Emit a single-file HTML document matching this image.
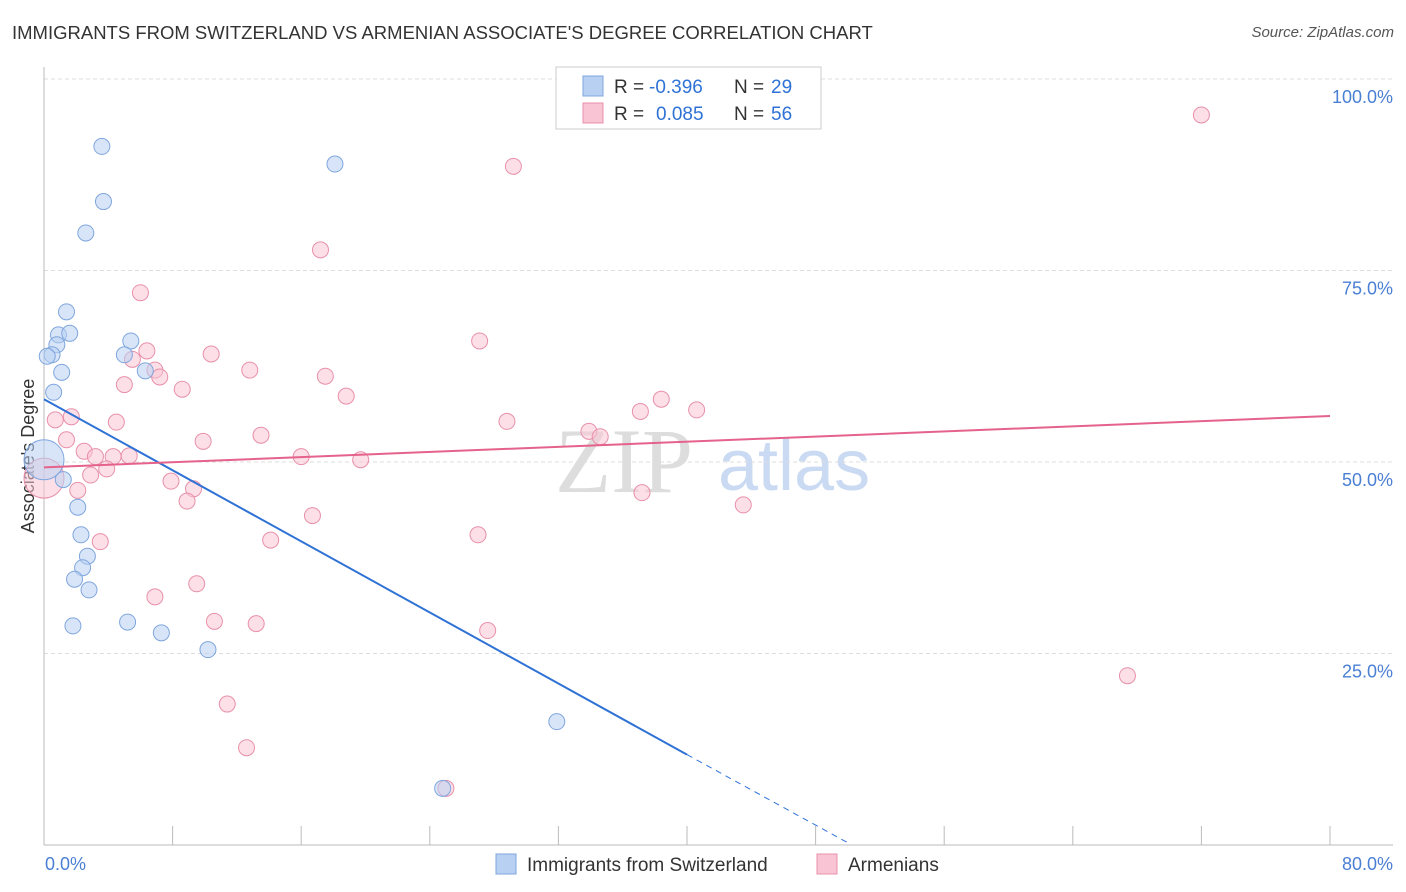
<!DOCTYPE html>
<html><head><meta charset="utf-8">
<style>
body{margin:0;background:#fff;font-family:"Liberation Sans",sans-serif;}
#wrap{position:relative;width:1406px;height:892px;overflow:hidden;}
.t{position:absolute;white-space:nowrap;}
</style></head>
<body><div id="wrap">
<div class="t" style="left:12px;top:22px;font-size:18.5px;color:#333;">IMMIGRANTS FROM SWITZERLAND VS ARMENIAN ASSOCIATE'S DEGREE CORRELATION CHART</div>
<div class="t" style="right:12px;top:24px;font-size:15px;color:#555;font-style:italic;">Source: ZipAtlas.com</div>
<svg id="svg" width="1406" height="892" style="position:absolute;left:0;top:0;"></svg>
</div>
<script>
const xTicks=[0,8,16,24,32,40,48,56,64,72,80];
const yTicks=[25,50,75,100];
const yTickLabels=["25.0%","50.0%","75.0%","100.0%"];
const blueX=[3.6,18.1,3.7,2.6,1.4,0.9,1.6,0.8,0.5,0.2,1.1,0.6,5.4,5.0,6.3,0,1.2,2.1,2.3,2.7,2.4,1.9,2.8,1.8,5.2,7.3,10.2,31.9,24.8];
const blueY=[91.2,88.9,84.0,79.9,69.6,66.6,66.8,65.3,64.0,63.8,61.7,59.1,65.8,64.0,61.9,50.3,47.7,44.1,40.5,37.7,36.2,34.7,33.3,28.6,29.1,27.7,25.5,16.1,7.4];
const pinkX=[72,29.2,17.2,6.0,27.1,6.4,10.4,5.5,6.9,7.2,12.8,17.5,8.6,5.0,18.8,0.7,1.7,4.5,28.8,37.1,38.4,40.6,33.9,34.6,1.4,13.5,9.9,2.5,3.2,4.3,5.3,16.0,19.7,3.9,2.9,7.9,9.3,2.1,8.9,37.2,43.5,16.7,27.0,14.1,3.5,9.5,6.9,10.6,13.2,27.6,67.4,11.4,12.6,25.0,0];
const pinkY=[95.3,88.6,77.7,72.1,65.8,64.5,64.1,63.4,62.0,61.1,62.0,61.2,59.5,60.1,58.6,55.5,55.9,55.2,55.3,56.6,58.2,56.8,54.0,53.3,52.9,53.5,52.7,51.4,50.7,50.7,50.8,50.7,50.3,49.1,48.3,47.5,46.5,46.3,44.9,46.0,44.4,43.0,40.5,39.8,39.6,34.1,32.4,29.2,28.9,28.0,22.1,18.4,12.7,7.4,47.9];
const L=44,R=1330,T=79,B=845;
const xs=v=>L+(R-L)*v/80, ys=v=>B-(B-T)*v/100;
const svg=document.getElementById('svg');const NS='http://www.w3.org/2000/svg';
function mk(tag,attrs,parent){const e=document.createElementNS(NS,tag);for(const k in attrs)e.setAttribute(k,attrs[k]);(parent||svg).appendChild(e);return e;}
let w=mk('text',{x:555,y:492,'font-size':92,fill:'#ddd','font-family':'Liberation Serif,serif'});w.textContent='ZIP';


let w2=mk('text',{x:718,y:490,'font-size':72,fill:'#c9daf2','font-family':'Liberation Sans,sans-serif'});w2.textContent='atlas';


yTicks.forEach((v,i)=>{let g=mk('line',{x1:L,x2:1393,y1:ys(v),y2:ys(v),stroke:'#ddd','stroke-dasharray':'4,3'});


let t=mk('text',{x:1393,y:ys(v)+24,'text-anchor':'end','font-size':18,fill:'#4a7fd4'});t.textContent=yTickLabels[i];

});
let ax=mk('line',{x1:L,x2:1393,y1:B,y2:B,stroke:'#bbb'});


let ay=mk('line',{x1:L,x2:L,y1:67,y2:B,stroke:'#bbb'});


xTicks.forEach(v=>{let tk=mk('line',{x1:xs(v),x2:xs(v),y1:826,y2:845,stroke:'#bbb'});

});
let x0=mk('text',{x:45,y:870,'font-size':18,fill:'#4a7fd4'});x0.textContent='0.0%';


let x1=mk('text',{x:1393,y:870,'font-size':18,fill:'#4a7fd4','text-anchor':'end'});x1.textContent='80.0%';


let yt=mk('text',{x:34,y:456,'font-size':18,fill:'#333','text-anchor':'middle',transform:'rotate(-90 34 456)'});yt.textContent="Associate's Degree";


function dots(X,Y,fill,stroke,name){X.forEach((x,i)=>{const big=(x===0);let c=mk('circle',{cx:xs(x),cy:ys(Y[i]),r:big?20:8,fill:fill,'fill-opacity':0.55,stroke:stroke,'stroke-width':1});

});}
dots(pinkX,pinkY,'#f9c4d4','#e890aa','armenian-point');
dots(blueX,blueY,'#b8d0f2','#7fa6dd','swiss-point');
let bl=mk('line',{x1:xs(0),y1:ys(58.2),x2:xs(40),y2:ys(11.8),stroke:'#2f72d6','stroke-width':2});


let bd=mk('line',{x1:xs(40),y1:ys(11.8),x2:xs(50),y2:ys(0.3),stroke:'#2f72d6','stroke-width':1,'stroke-dasharray':'6,5'});


let pl=mk('line',{x1:xs(0),y1:ys(49.3),x2:xs(80),y2:ys(56),stroke:'#e4628b','stroke-width':2});


let lb=mk('rect',{x:556,y:67,width:265,height:62,fill:'#fff',stroke:'#ccc'});


function txt(x,y,s,fill,nm){let t=mk('text',{x:x,y:y,'font-size':19,fill:fill});t.textContent=s;

}
function legRow(y,fill,stroke,r,rx,n,nm){let s=mk('rect',{x:583,y:y-10,width:20,height:20,fill:fill,stroke:stroke});


txt(614,y+7,'R =','#333',nm+'-r-label');
txt(rx,y+7,r,'#2f72d6',nm+'-r-value');
txt(734,y+7,'N =','#333',nm+'-n-label');
txt(771,y+7,n,'#2f72d6',nm+'-n-value');}
legRow(86,'#b8d0f2','#7fa6dd','-0.396',649,'29','swiss');
legRow(113,'#f9c4d4','#e890aa','0.085',656,'56','armenian');
let s1=mk('rect',{x:496,y:854,width:20,height:20,fill:'#b8d0f2',stroke:'#7fa6dd'});


let l1=mk('text',{x:527,y:871,'font-size':19,fill:'#333'});l1.textContent='Immigrants from Switzerland';


let s2=mk('rect',{x:817,y:854,width:20,height:20,fill:'#f9c4d4',stroke:'#e890aa'});


let l2=mk('text',{x:848,y:871,'font-size':19,fill:'#333'});l2.textContent='Armenians';


</script>
</body></html>
